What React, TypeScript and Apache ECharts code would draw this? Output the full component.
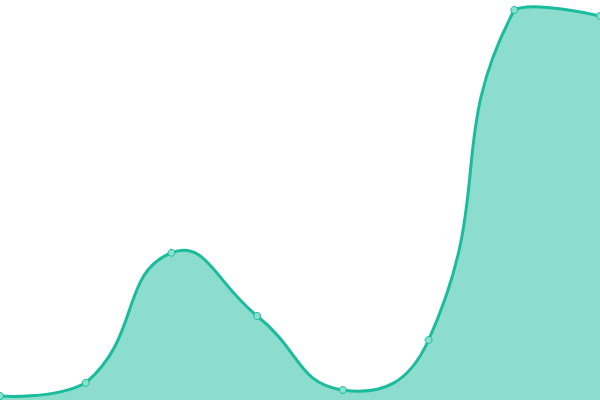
import { useEffect, useRef } from 'react';
import * as echarts from 'echarts';

const categories = ['A', 'B', 'C', 'D', 'E', 'F', 'G', 'H'];
const values = [1, 4.3, 36.8, 21, 2.5, 15, 97.5, 96];

const lineColor = '#1abc9c';
const smooth = 0.5;

// old-style bezier smoothing: tangent from prev to next, control points kept inside the grid
function smoothPath(pts: number[][], minX: number, minY: number, maxX: number, maxY: number) {
  const clamp = (v: number, lo: number, hi: number) => Math.min(hi, Math.max(lo, v));
  const cps: { cp0: number[]; cp1: number[] }[] = pts.map((p, i) => {
    if (i === 0 || i === pts.length - 1) {
      return { cp0: p, cp1: p };
    }
    const prev = pts[i - 1];
    const next = pts[i + 1];
    const vx = (next[0] - prev[0]) * smooth;
    const vy = (next[1] - prev[1]) * smooth;
    const d0 = Math.hypot(p[0] - prev[0], p[1] - prev[1]);
    const d1 = Math.hypot(next[0] - p[0], next[1] - p[1]);
    const sum = d0 + d1 || 1;
    const cp0 = [clamp(p[0] - vx * (d0 / sum), minX, maxX), clamp(p[1] - vy * (d0 / sum), minY, maxY)];
    const cp1 = [clamp(p[0] + vx * (d1 / sum), minX, maxX), clamp(p[1] + vy * (d1 / sum), minY, maxY)];
    return { cp0, cp1 };
  });

  let d = `M${pts[0][0]},${pts[0][1]}`;
  for (let i = 1; i < pts.length; i++) {
    const a = cps[i - 1].cp1;
    const b = cps[i].cp0;
    d += ` C${a[0]},${a[1]} ${b[0]},${b[1]} ${pts[i][0]},${pts[i][1]}`;
  }
  return d;
}

export default function App() {
  const chartRef = useRef<HTMLDivElement>(null);

  useEffect(() => {
    if (!chartRef.current) {
      return;
    }
    const chart = echarts.init(chartRef.current, undefined, { renderer: 'svg' });

    const option: echarts.EChartsOption = {
      animation: false,
      grid: { left: 0, right: 0, top: 0, bottom: 0 },
      xAxis: {
        type: 'category',
        data: categories,
        boundaryGap: false,
        show: false,
      },
      yAxis: {
        type: 'value',
        min: 0,
        max: 100,
        show: false,
      },
      series: [
        {
          type: 'custom',
          data: values.map((v, i) => [i, v]),
          encode: { x: 0, y: 1 },
          silent: true,
          renderItem: (params: any, api: any) => {
            if (params.dataIndex !== 0) {
              return null;
            }
            const cs = params.coordSys;
            const pts = values.map((v, i) => api.coord([i, v]));
            const line = smoothPath(pts, cs.x, cs.y, cs.x + cs.width, cs.y + cs.height);
            const base = api.coord([0, 0])[1];
            const last = pts[pts.length - 1];
            const area = `${line} L${last[0]},${base} L${pts[0][0]},${base} Z`;
            return {
              type: 'group',
              children: [
                {
                  type: 'path',
                  shape: { pathData: area },
                  style: { fill: lineColor, opacity: 0.5, stroke: 'none' },
                },
                {
                  type: 'path',
                  shape: { pathData: line },
                  style: { fill: 'none', stroke: lineColor, lineWidth: 3 },
                },
              ],
            };
          },
        } as any,
        {
          type: 'line',
          data: values,
          symbol: 'circle',
          symbolSize: 7,
          lineStyle: { opacity: 0 },
          itemStyle: { color: '#8ae0d0', borderColor: lineColor, borderWidth: 1 },
          z: 3,
        },
      ],
    };

    chart.setOption(option);
    return () => {
      chart.dispose();
    };
  }, []);

  return (
    <div
      ref={chartRef}
      style={{ position: 'fixed', left: 0, top: 0, width: '600px', height: '400px' }}
    />
  );
}
